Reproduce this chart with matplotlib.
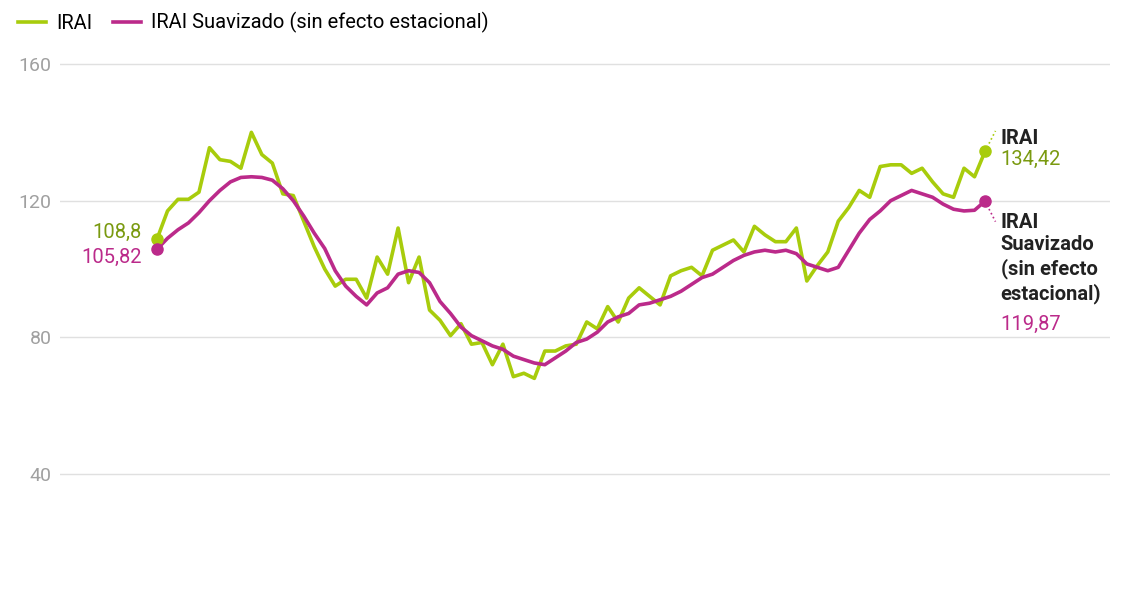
import matplotlib.pyplot as plt
import numpy as np
plt.rcParams['font.family'] = ['Roboto', 'DejaVu Sans']

irai = [108.8,117,120.4,120.4,122.5,135.5,132,131.5,129.5,140,133.5,131,122,121.5,114,106.5,100,95,97,97,
        91.5,103.5,98.5,112,96,103.5,88,85,80.5,84,78,78.5,72,78,68.5,69.5,68,76,76,77.5,
        78,84.5,82.5,89,84.5,91.5,94.5,92,89.5,98,99.5,100.5,98,105.5,107,108.5,105,112.5,110,108,
        108,112,96.5,101,105,114,118,123,121,130,130.5,130.5,128,129.5,125.5,122,121,129.5,127,134.42]
suav = [105.82,109,111.5,113.5,116.5,120,123,125.5,126.8,127,126.8,126,123.5,120,115.5,110.5,106,99.5,95,92,
        89.5,93,94.5,98.5,99.5,99,96,90.5,87,83,80.5,79,77.5,76.5,74.5,73.5,72.5,72,74,76,
        78.5,79.5,81.5,84.5,86,87,89.5,90,91,92,93.5,95.5,97.5,98.5,100.5,102.5,104,105,105.5,105,
        105.5,104.5,101.5,100.5,99.5,100.5,105.5,110.5,114.5,117,120,121.5,123,122,121,119,117.5,117,117.2,119.87]
yticks = [40, 80, 120, 160]

G = '#a8cc0c'; M = '#bb2a8a'
W, H = 1128, 591
fig = plt.figure(figsize=(W/100, H/100), dpi=100)
ax = fig.add_axes([60/W, 1-520/H, 1050/W, 470/H])
x = np.arange(len(irai))
ax.plot(x, irai, color=G, lw=2.6, label='IRAI')
ax.plot(x, suav, color=M, lw=2.6, label='IRAI Suavizado (sin efecto estacional)')
n = len(irai)-1
for i in (0, n):
    ax.plot(i, irai[i], 'o', color=G, ms=8)
    ax.plot(i, suav[i], 'o', color=M, ms=8)
ax.set_xlim(-9.26, n + 125/10.48)
ax.set_ylim(26.55, 164.1)
ax.set_yticks(yticks)
ax.grid(axis='y', color='#e0e0e0', lw=1)
ax.set_axisbelow(True)
for s in ax.spines.values(): s.set_visible(False)
ax.tick_params(length=0, labelsize=14, labelcolor='#a0a0a0', pad=6)
ax.set_xticks([])
fs = 14.5
ax.text(-1.5, irai[0]+2, '108,8', color='#7a9a10', fontsize=fs, ha='right', va='center')
ax.text(-1.5, suav[0]-2.5, '105,82', color=M, fontsize=fs, ha='right', va='center')
ax.plot([n, n+1], [irai[n], irai[n]+6], ls=':', color=G, lw=1.2)
ax.plot([n, n+1], [suav[n], suav[n]-6], ls=':', color=M, lw=1.2)
ax.text(n+1.5, 135.5, 'IRAI', fontsize=fs, fontweight='bold', color='#222222', va='bottom')
ax.text(n+1.5, 135.0, '134,42', fontsize=fs, color='#7a9a10', va='top')
ax.text(n+1.5, 116.5, 'IRAI\nSuavizado\n(sin efecto\nestacional)', fontsize=fs, fontweight='bold', color='#222222', va='top', linespacing=1.25)
ax.text(n+1.5, 86.5, '119,87', fontsize=fs, color=M, va='top')
fig.legend(loc='upper left', bbox_to_anchor=(0, 1.01), ncol=2, frameon=False, fontsize=14.5,
           handlelength=1.4, columnspacing=1.0, handletextpad=0.5)
fig.savefig('out.png', dpi=100)
